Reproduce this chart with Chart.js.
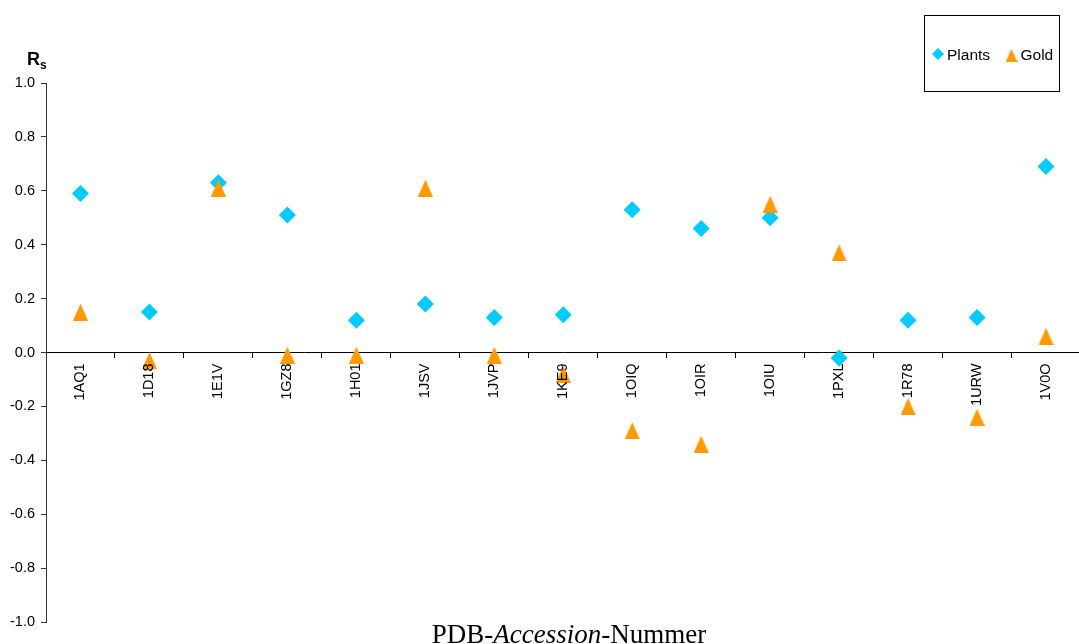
<!DOCTYPE html>
<html>
<head>
<meta charset="utf-8">
<script src="https://cdn.jsdelivr.net/npm/chart.js@4/dist/chart.umd.min.js"></script>
<style>
  html, body { margin: 0; padding: 0; background: #fff; overflow: hidden; width: 1079px; height: 644px; }
  #wrap { width: 1079px; height: 644px; overflow: hidden; position: relative; }
  canvas { display: block; }
</style>
</head>
<body>
<div id="wrap"><canvas id="chart" width="1089" height="644"></canvas></div>
<script>
// PDB accession codes along the x axis
const accessions = ['1AQ1', '1D18', '1E1V', '1GZ8', '1H01', '1JSV', '1JVP', '1KE9',
                    '1OIQ', '1OIR', '1OIU', '1PXL', '1R78', '1URW', '1V0O'];
// Spearman coefficients R_s per structure
const plantsRs = [0.59, 0.15, 0.63, 0.51, 0.12, 0.18, 0.13, 0.14,
                  0.53, 0.46, 0.50, -0.02, 0.12, 0.13, 0.69];
const goldRs   = [0.15, -0.03, 0.61, -0.01, -0.01, 0.61, -0.01, -0.08,
                  -0.29, -0.34, 0.55, 0.37, -0.20, -0.24, 0.06];
// y axis range and tick step
const yMin = -1.0, yMax = 1.0, yStep = 0.2;

const PLANTS_COLOR = '#00CCFF';
const GOLD_COLOR = '#FF9900';
const SANS = '"Liberation Sans", Arial, sans-serif';
const SERIF = '"Liberation Serif", "Times New Roman", serif';

// upward triangle marker as a small canvas (taller than equilateral)
function triangleMarker(w, h, color) {
  const c = document.createElement('canvas');
  c.width = w; c.height = h;
  const g = c.getContext('2d');
  g.fillStyle = color;
  g.beginPath();
  g.moveTo(w / 2, 0);
  g.lineTo(w, h);
  g.lineTo(0, h);
  g.closePath();
  g.fill();
  return c;
}
const goldMarker = triangleMarker(15, 17, GOLD_COLOR);

// titles and boxed legend drawn on the canvas
const decorations = {
  id: 'decorations',
  afterDraw(chart) {
    const ctx = chart.ctx;
    ctx.save();
    ctx.fillStyle = '#000';
    ctx.textBaseline = 'alphabetic';
    ctx.textAlign = 'left';

    // y axis title: R with subscript s
    ctx.font = 'bold 18px ' + SANS;
    ctx.fillText('R', 27, 65);
    ctx.font = 'bold 12px ' + SANS;
    ctx.fillText('s', 40, 69);

    // x axis title with italic middle part
    const parts = [
      { t: 'PDB-', f: '27px ' + SERIF },
      { t: 'Accession', f: 'italic 27px ' + SERIF },
      { t: '-Nummer', f: '27px ' + SERIF }
    ];
    let total = 0;
    parts.forEach(p => { ctx.font = p.f; p.w = ctx.measureText(p.t).width; total += p.w; });
    let x = 569 - total / 2;
    parts.forEach(p => { ctx.font = p.f; ctx.fillText(p.t, x, 643); x += p.w; });

    // legend box
    ctx.strokeStyle = '#000';
    ctx.lineWidth = 1;
    ctx.strokeRect(924.5, 15.5, 135, 76);
    // diamond
    ctx.fillStyle = PLANTS_COLOR;
    ctx.beginPath();
    ctx.moveTo(938, 48);
    ctx.lineTo(944, 54);
    ctx.lineTo(938, 60);
    ctx.lineTo(932, 54);
    ctx.closePath();
    ctx.fill();
    // triangle
    ctx.drawImage(triangleMarker(12, 13, GOLD_COLOR), 1005.5, 49);
    ctx.fillStyle = '#000';
    ctx.font = '15.5px ' + SANS;
    ctx.fillText('Plants', 947, 60);
    ctx.fillText('Gold', 1020.5, 60);
    ctx.restore();
  }
};

new Chart(document.getElementById('chart'), {
  type: 'scatter',
  data: {
    labels: accessions,
    datasets: [
      {
        label: 'Plants',
        data: plantsRs,
        pointStyle: 'rectRot',
        pointRadius: 8.5,
        pointHoverRadius: 8.5,
        borderWidth: 0,
        backgroundColor: PLANTS_COLOR,
        borderColor: PLANTS_COLOR,
        showLine: false,
        order: 1
      },
      {
        label: 'Gold',
        data: goldRs,
        pointStyle: goldMarker,
        backgroundColor: GOLD_COLOR,
        borderColor: GOLD_COLOR,
        showLine: false,
        order: 0
      }
    ]
  },
  options: {
    responsive: false,
    animation: false,
    events: [],
    layout: { padding: { top: 83, bottom: 22, left: 0, right: 0 } },
    plugins: { legend: { display: false }, tooltip: { enabled: false } },
    scales: {
      x: {
        type: 'category',
        labels: accessions,
        offset: true,
        position: { y: 0 },
        grid: { offset: true, drawOnChartArea: false, tickLength: 5, color: '#000' },
        border: { color: '#000', width: 1 },
        ticks: {
          z: 1,
          autoSkip: false,
          minRotation: 90,
          maxRotation: 90,
          padding: 6,
          color: '#000',
          font: { family: SANS, size: 14.5 }
        }
      },
      y: {
        type: 'linear',
        min: yMin,
        max: yMax,
        afterFit(scale) { scale.width = 46; },
        grid: { drawOnChartArea: false, tickLength: 5, color: '#333' },
        border: { color: '#333', width: 1 },
        ticks: {
          stepSize: yStep,
          padding: 6,
          color: '#000',
          font: { family: SANS, size: 14.5 },
          callback: v => v.toFixed(1)
        }
      }
    }
  },
  plugins: [decorations]
});
</script>
</body>
</html>
